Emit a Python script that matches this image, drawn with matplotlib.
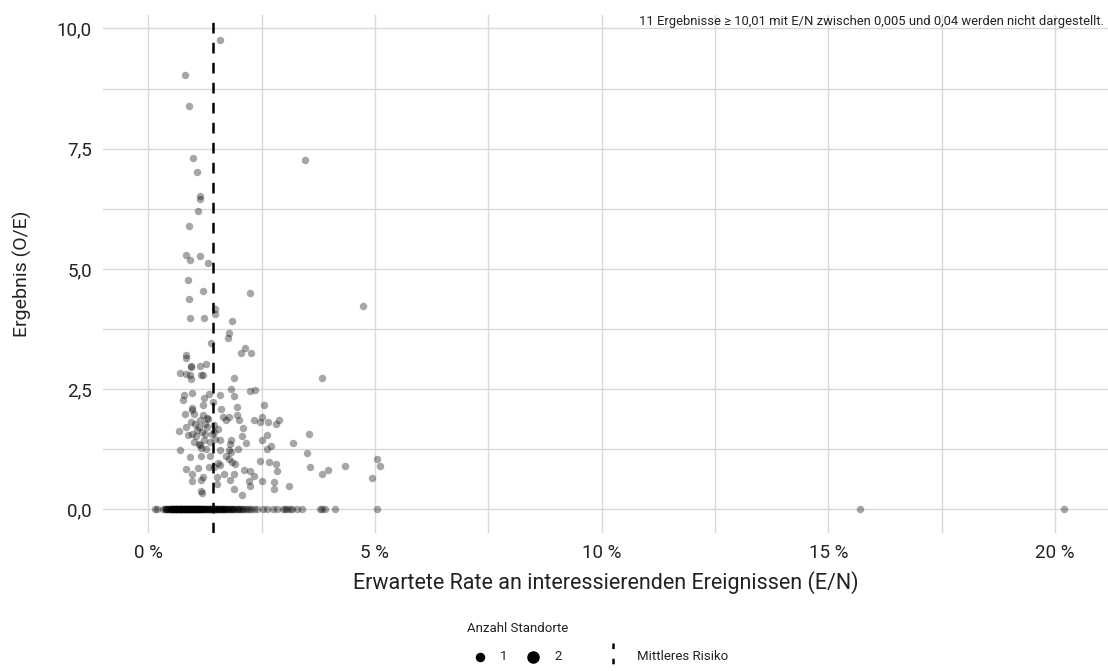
import matplotlib
matplotlib.use("Agg")
import matplotlib.pyplot as plt
from matplotlib.lines import Line2D
from matplotlib.ticker import FixedLocator, FuncFormatter

plt.rcParams["font.family"] = ["Roboto", "DejaVu Sans"]
plt.rcParams["lines.scale_dashes"] = False

# Expected rate E/N (in %) and O/E ratio for sites with at least one observed event
rate_pos = [
    1.59, 0.80, 0.90, 0.99, 3.46, 1.08, 1.13, 1.13, 1.09, 0.90, 0.83, 0.93, 1.13, 1.31,
    0.88, 1.20, 2.24, 0.89, 4.74, 1.47, 1.46, 0.91, 1.22, 1.84, 1.77, 1.76, 1.38, 2.14,
    2.05, 2.26, 0.84, 0.84, 0.94, 0.95, 1.13, 1.28, 0.69, 0.82, 0.91, 1.16, 1.21, 1.89,
    3.84, 0.94, 1.83, 2.24, 2.36, 0.78, 0.96, 0.76, 1.23, 1.21, 1.34, 1.57, 1.89, 1.43,
    2.56, 0.97, 1.61, 1.96, 0.80, 0.96, 1.00, 1.21, 1.32, 1.96, 1.65, 1.77, 1.72, 1.99,
    2.33, 2.50, 2.47, 2.63, 2.81, 2.89, 0.94, 1.14, 1.25, 1.11, 1.44, 1.53, 0.67, 0.82,
    0.97, 1.18, 1.25, 1.40, 2.09, 2.06, 2.62, 3.55, 1.48, 1.59, 1.11, 1.14, 1.36, 1.83,
    1.80, 2.15, 2.51, 2.70, 2.61, 3.20, 0.69, 1.17, 1.59, 1.77, 1.83, 1.97, 3.50, 1.72,
    1.77, 0.91, 1.17, 1.36, 1.53, 1.57, 1.84, 1.92, 1.44, 1.33, 0.83, 1.10, 2.47, 2.66,
    2.81, 2.84, 3.57, 3.96, 3.83, 4.34, 5.04, 5.12, 4.93, 2.10, 2.24, 0.97, 1.20, 1.66,
    1.88, 2.33, 1.17, 0.96, 1.51, 1.81, 2.21, 2.51, 2.78, 1.51, 2.24, 2.78, 3.10, 1.17,
    1.19, 1.88, 2.07, 1.02, 1.07, 1.30, 1.05, 1.22, 0.88, 1.30, 1.45, 1.00, 1.28,
]
ratio_pos = [
    9.77, 9.03, 8.39, 7.31, 7.26, 7.01, 6.51, 6.46, 6.20, 5.90, 5.30, 5.18, 5.27, 5.12,
    4.77, 4.54, 4.49, 4.38, 4.22, 4.17, 4.07, 3.99, 3.97, 3.91, 3.66, 3.57, 3.46, 3.36,
    3.26, 3.26, 3.22, 3.15, 2.99, 2.97, 2.99, 3.03, 2.84, 2.81, 2.79, 2.79, 2.80, 2.73,
    2.74, 2.72, 2.51, 2.47, 2.49, 2.37, 2.42, 2.27, 2.31, 2.18, 2.41, 2.37, 2.35, 2.23,
    2.17, 2.10, 2.09, 2.14, 1.99, 2.07, 1.99, 1.97, 1.89, 1.97, 1.92, 1.92, 1.85, 1.85,
    1.85, 1.92, 1.82, 1.82, 1.78, 1.86, 1.82, 1.85, 1.78, 1.71, 1.75, 1.68, 1.64, 1.71,
    1.57, 1.61, 1.57, 1.57, 1.70, 1.53, 1.54, 1.56, 1.47, 1.44, 1.37, 1.34, 1.40, 1.44,
    1.36, 1.39, 1.44, 1.31, 1.25, 1.39, 1.23, 1.28, 1.23, 1.23, 1.19, 1.25, 1.18, 1.12,
    1.05, 1.09, 1.12, 1.12, 0.96, 0.92, 0.99, 0.95, 0.88, 0.88, 0.85, 0.86, 1.00, 0.98,
    0.94, 0.80, 0.89, 0.83, 0.73, 0.91, 1.04, 0.90, 0.66, 0.83, 0.79, 0.73, 0.67, 0.73,
    0.73, 0.69, 0.62, 0.59, 0.67, 0.62, 0.59, 0.59, 0.58, 0.52, 0.49, 0.43, 0.48, 0.38,
    0.34, 0.43, 0.31, 1.78, 1.66, 1.72, 1.52, 1.45, 1.55, 1.90, 1.62, 1.40, 1.26,
]

# Expected rate E/N (in %) for sites without any observed event (O/E = 0)
rate_zero = [
    0.15, 0.20, 0.33, 0.36, 0.38, 0.40, 0.42, 0.44, 0.45, 0.47, 0.49, 0.50, 0.52, 0.53,
    0.55, 0.56, 0.58, 0.59, 0.61, 0.62, 0.63, 0.65, 0.66, 0.67, 0.69, 0.70, 0.71, 0.72,
    0.74, 0.75, 0.76, 0.77, 0.78, 0.80, 0.81, 0.82, 0.83, 0.84, 0.85, 0.87, 0.88, 0.89,
    0.90, 0.91, 0.92, 0.94, 0.95, 0.96, 0.97, 0.98, 1.00, 1.01, 1.02, 1.03, 1.05, 1.06,
    1.07, 1.08, 1.10, 1.11, 1.12, 1.14, 1.15, 1.17, 1.18, 1.20, 1.21, 1.23, 1.25, 1.26,
    1.28, 1.30, 1.32, 1.33, 1.35, 1.37, 1.39, 1.41, 1.43, 1.46, 1.49, 1.52, 1.55, 1.58,
    1.62, 1.65, 1.68, 1.72, 1.76, 1.80, 1.85, 1.90, 1.95, 2.01, 2.06, 2.14, 2.22, 2.32,
    2.40, 2.54, 2.62, 2.76, 2.84, 2.97, 3.02, 3.06, 3.12, 3.17, 3.28, 3.40, 3.79, 3.84,
    3.89, 4.11, 5.05, 15.69, 20.19,
    0.48, 0.54, 0.60, 0.64, 0.68, 0.73, 0.79, 0.86, 0.93, 0.99, 1.04, 1.09, 1.16, 1.22,
    1.29, 1.36, 0.57, 0.71, 0.84, 0.97, 1.13,
    1.44, 1.47, 1.50, 1.53, 1.57, 1.60, 1.63, 1.67, 1.70, 1.74, 1.78, 1.82, 1.87, 1.92,
    1.98, 2.03, 2.09, 2.18, 2.27,
]
ratio_zero = [0.0] * len(rate_zero)

mean_risk = 1.42  # mean expected rate in %

x_ticks = [0, 5, 10, 15, 20]
x_minor = [2.5, 7.5, 12.5, 17.5]
y_ticks = [0.0, 2.5, 5.0, 7.5, 10.0]
y_minor = [1.25, 3.75, 6.25, 8.75]

W, H = 1108, 671
fig = plt.figure(figsize=(W / 100, H / 100), dpi=100)
ax = fig.add_axes([103 / W, 1 - 533 / H, 1005 / W, 518 / H])
ax.set_xlim(-1.0, 21.17)
ax.set_ylim(-0.49, 10.28)

for s in ax.spines.values():
    s.set_visible(False)

ax.xaxis.set_major_locator(FixedLocator(x_ticks))
ax.xaxis.set_minor_locator(FixedLocator(x_minor))
ax.yaxis.set_major_locator(FixedLocator(y_ticks))
ax.yaxis.set_minor_locator(FixedLocator(y_minor))
ax.xaxis.set_major_formatter(FuncFormatter(lambda v, p: f"{v:.0f} %"))
ax.yaxis.set_major_formatter(FuncFormatter(lambda v, p: f"{v:.1f}".replace(".", ",")))
ax.tick_params(which="both", length=0)
ax.tick_params(axis="x", pad=8, labelsize=13.5, labelcolor="#222222")
ax.tick_params(axis="y", pad=8, labelsize=13.5, labelcolor="#222222")
ax.grid(which="both", color="#D9D9D9", linewidth=1.0)
ax.set_axisbelow(True)

pt_size = 29
ax.scatter(rate_zero, ratio_zero, s=pt_size, color="black", alpha=0.35,
           linewidths=0, zorder=3)
ax.scatter(rate_pos, ratio_pos, s=pt_size, color="black", alpha=0.35,
           linewidths=0, zorder=3)

ax.axvline(mean_risk, color="black", linewidth=1.8, dashes=(7.7, 6.7), zorder=4)

ax.set_xlabel("Erwartete Rate an interessierenden Ereignissen (E/N)", fontsize=15.5,
              color="#222222")
ax.xaxis.set_label_coords(0.5, (88 - 138) / 518)
ax.xaxis.label.set_va("center")
ax.set_ylabel("Ergebnis (O/E)", fontsize=14, color="#222222")
ax.yaxis.set_label_coords((22 - 103) / 1005, 0.5)
ax.yaxis.label.set_va("center")

fig.text(1104 / W, 1 - 22 / H,
         "11 Ergebnisse \u2265 10,01 mit E/N zwischen 0,005 und 0,04 werden nicht dargestellt.",
         ha="right", va="center", fontsize=9.4, color="#222222")

# Legend
fig.text(518 / W, 1 - 628 / H, "Anzahl Standorte", ha="center", va="center",
         fontsize=9.5, color="#222222")
fig.add_artist(Line2D([480 / W], [1 - 657 / H], marker="o", markersize=5.8,
                      color="black", linestyle="none", transform=fig.transFigure))
fig.text(504 / W, 1 - 657 / H, "1", ha="center", va="center", fontsize=9.5, color="#222222")
fig.add_artist(Line2D([533 / W], [1 - 657 / H], marker="o", markersize=8.0,
                      color="black", linestyle="none", transform=fig.transFigure))
fig.text(558 / W, 1 - 657 / H, "2", ha="center", va="center", fontsize=9.5, color="#222222")
fig.add_artist(Line2D([613 / W, 613 / W], [1 - 643 / H, 1 - 671 / H], color="black",
                      linewidth=1.8, dashes=(4.0, 7.0), transform=fig.transFigure))
fig.text(637 / W, 1 - 657 / H, "Mittleres Risiko", ha="left", va="center",
         fontsize=9.5, color="#222222")

fig.savefig("out.png", dpi=100)
